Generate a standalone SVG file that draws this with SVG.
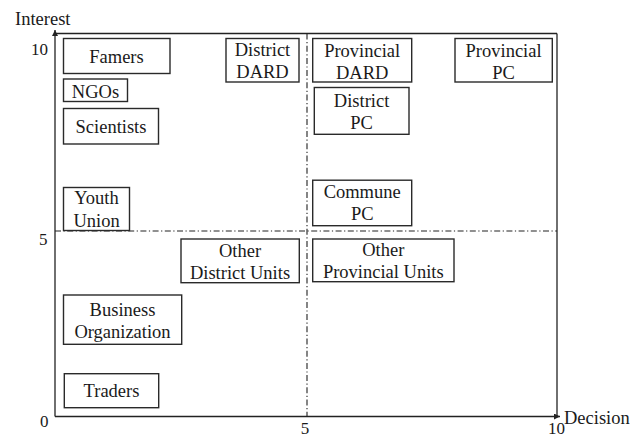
<svg xmlns="http://www.w3.org/2000/svg" width="642" height="437" viewBox="0 0 642 437">
<style>
  text { font-family: "Liberation Serif", "Times New Roman", serif; font-size: 18.5px; fill: #1a1a1a; }
  .c { text-anchor: middle; }
  .num { font-size: 17px; }
  .box { fill: #fff; stroke: #2a2a2a; stroke-width: 1.4; }
  .frame { fill: none; stroke: #222; stroke-width: 1.3; }
  .dd { fill: none; stroke: #222; stroke-width: 1.1; stroke-dasharray: 6 2.5 1.2 2.5; }
</style>
<defs>
  <marker id="arr" viewBox="0 0 10 10" refX="10" refY="5" markerWidth="6" markerHeight="6" orient="auto" markerUnits="userSpaceOnUse">
    <path d="M0,0 L10,5 L0,10 z" fill="#222"/>
  </marker>
</defs>
<g id="axes">
  <line class="frame" x1="55" y1="33.5" x2="557" y2="33.5"/>
  <line class="frame" x1="557" y1="33.5" x2="557" y2="416.5"/>
  <line class="frame" x1="55" y1="416.5" x2="55" y2="30" marker-end="url(#arr)"/>
  <line class="frame" x1="55" y1="416.5" x2="560" y2="416.5" marker-end="url(#arr)"/>
  <line class="dd" x1="55" y1="231" x2="557" y2="231"/>
  <line class="dd" x1="307" y1="33.5" x2="307" y2="416.5"/>
  <text x="15" y="25">Interest</text>
  <text x="564" y="424">Decision</text>
  <text class="num" x="31" y="55">10</text>
  <text class="num" x="39" y="245">5</text>
  <text class="num" x="40" y="426.5">0</text>
  <text class="num c" x="305" y="433.5">5</text>
  <text class="num" x="548" y="433.5">10</text>
</g>
<g id="famers"><rect class="box" x="63.5" y="38.5" width="106.5" height="35"/><text class="c" x="116.5" y="63.3">Famers</text></g>
<g id="ngos"><rect class="box" x="63.5" y="79" width="64" height="22.5"/><text class="c" x="95.5" y="98">NGOs</text></g>
<g id="scientists"><rect class="box" x="63.5" y="108.5" width="95" height="35.5"/><text class="c" x="111" y="132.7">Scientists</text></g>
<g id="youth-union"><rect class="box" x="63.5" y="187.5" width="66" height="43"/><text class="c" x="96.5" y="204">Youth</text><text class="c" x="96.5" y="227">Union</text></g>
<g id="district-dard"><rect class="box" x="226" y="38.5" width="73" height="43.5"/><text class="c" x="262.5" y="55.5">District</text><text class="c" x="262.5" y="78">DARD</text></g>
<g id="provincial-dard"><rect class="box" x="312.7" y="38.5" width="99" height="43.5"/><text class="c" x="362.2" y="56.5">Provincial</text><text class="c" x="362.2" y="78.5">DARD</text></g>
<g id="provincial-pc"><rect class="box" x="455" y="38.5" width="97.3" height="43.5"/><text class="c" x="503.6" y="56.5">Provincial</text><text class="c" x="503.6" y="79">PC</text></g>
<g id="district-pc"><rect class="box" x="314.3" y="87.5" width="94.7" height="46.8"/><text class="c" x="361.6" y="107">District</text><text class="c" x="361.6" y="128.5">PC</text></g>
<g id="commune-pc"><rect class="box" x="312.7" y="180.2" width="99" height="45.5"/><text class="c" x="362.2" y="198">Commune</text><text class="c" x="362.2" y="220">PC</text></g>
<g id="other-district-units"><rect class="box" x="181" y="239" width="118.3" height="43.7"/><text class="c" x="240" y="256.5">Other</text><text class="c" x="240" y="279.3">District Units</text></g>
<g id="other-provincial-units"><rect class="box" x="312.7" y="239" width="141.3" height="42.7"/><text class="c" x="383.3" y="255.5">Other</text><text class="c" x="383.3" y="278.3">Provincial Units</text></g>
<g id="business-organization"><rect class="box" x="63.5" y="295" width="118.2" height="49.3"/><text class="c" x="122.5" y="315.7">Business</text><text class="c" x="122.5" y="338.3">Organization</text></g>
<g id="traders"><rect class="box" x="64.3" y="373.7" width="94.4" height="34"/><text class="c" x="111.5" y="397.3">Traders</text></g>
</svg>
